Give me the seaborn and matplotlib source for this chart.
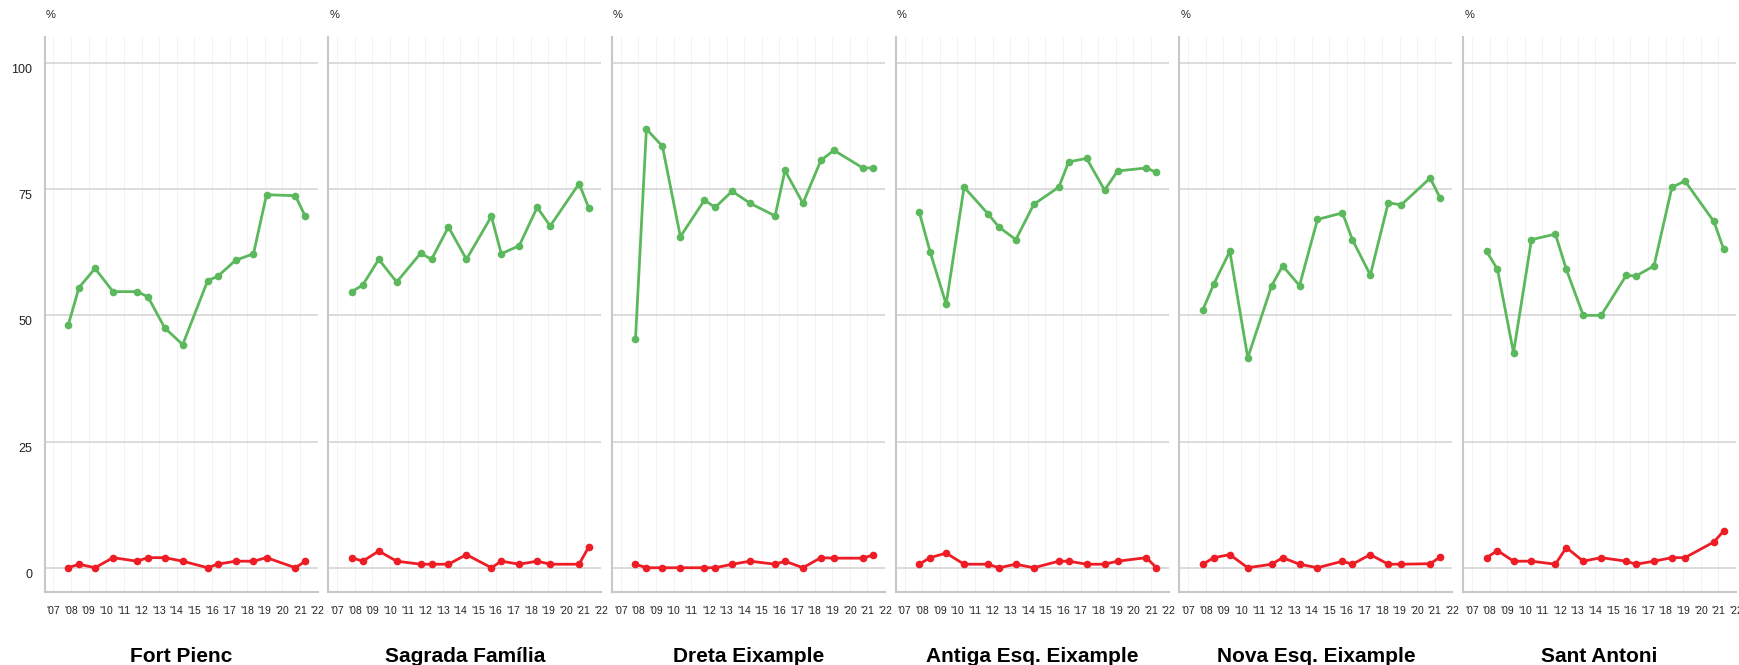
import matplotlib
matplotlib.use("Agg")
import matplotlib.pyplot as plt
import matplotlib.transforms as mtransforms
import numpy as np
import pandas as pd
import seaborn as sns

sns.set_style("white")
plt.rcParams["font.family"] = ["Liberation Sans", "DejaVu Sans"]

# survey dates (fractional years) shared by every district
dates = [2007.83, 2008.45, 2009.36, 2010.38, 2011.74, 2012.36, 2013.32, 2014.34,
         2015.76, 2016.32, 2017.34, 2018.36, 2019.10, 2020.74, 2021.30]

districts = ["Fort Pienc", "Sagrada Família", "Dreta Eixample",
             "Antiga Esq. Eixample", "Nova Esq. Eixample", "Sant Antoni"]

green_vals = {
    "Fort Pienc":           [48.0, 55.5, 59.3, 54.7, 54.7, 53.7, 47.5, 44.2, 56.9, 57.7, 60.9, 62.2, 73.9, 73.7, 69.6],
    "Sagrada Família":      [54.7, 56.0, 61.1, 56.6, 62.3, 61.1, 67.5, 61.1, 69.6, 62.2, 63.8, 71.4, 67.7, 76.1, 71.2],
    "Dreta Eixample":       [45.4, 86.9, 83.5, 65.6, 72.8, 71.4, 74.6, 72.2, 69.7, 78.7, 72.2, 80.7, 82.7, 79.2, 79.2],
    "Antiga Esq. Eixample": [70.5, 62.6, 52.2, 75.4, 70.1, 67.5, 65.0, 72.0, 75.4, 80.4, 81.1, 74.8, 78.6, 79.2, 78.3],
    "Nova Esq. Eixample":   [51.1, 56.2, 62.7, 41.6, 55.9, 59.8, 55.9, 69.0, 70.3, 65.0, 58.0, 72.3, 71.9, 77.2, 73.3],
    "Sant Antoni":          [62.7, 59.1, 42.6, 65.0, 66.1, 59.1, 50.0, 50.0, 57.9, 57.8, 59.8, 75.4, 76.6, 68.6, 63.1],
}

red_vals = {
    "Fort Pienc":           [0.0, 0.7, 0.0, 2.0, 1.3, 2.0, 2.0, 1.3, 0.0, 0.7, 1.3, 1.3, 2.0, 0.0, 1.3],
    "Sagrada Família":      [2.0, 1.3, 3.3, 1.3, 0.7, 0.7, 0.7, 2.6, 0.0, 1.3, 0.7, 1.3, 0.7, 0.7, 4.2],
    "Dreta Eixample":       [0.7, 0.0, 0.0, 0.0, 0.0, 0.0, 0.7, 1.3, 0.7, 1.3, 0.0, 2.0, 1.9, 1.9, 2.5],
    "Antiga Esq. Eixample": [0.7, 2.0, 2.9, 0.7, 0.7, 0.0, 0.7, 0.0, 1.3, 1.3, 0.7, 0.7, 1.3, 2.0, 0.0],
    "Nova Esq. Eixample":   [0.7, 2.0, 2.6, 0.0, 0.7, 2.0, 0.7, 0.0, 1.3, 0.7, 2.6, 0.7, 0.7, 0.8, 2.1],
    "Sant Antoni":          [2.0, 3.4, 1.3, 1.3, 0.7, 4.0, 1.3, 2.0, 1.3, 0.7, 1.3, 2.0, 2.0, 5.1, 7.3],
}

year_ticks = list(range(2007, 2023))
year_labels = ["'%02d" % (y % 100) for y in year_ticks]
y_ticks = [0, 25, 50, 75, 100]

rows = []
for d in districts:
    for x, g, r in zip(dates, green_vals[d], red_vals[d]):
        rows.append((d, x, "green", g))
        rows.append((d, x, "red", r))
df = pd.DataFrame(rows, columns=["district", "date", "series", "value"])

palette = {"green": "#5cb85c", "red": "#ee1c25"}

fig, axes = plt.subplots(1, 6, figsize=(17.39, 6.65), dpi=100, sharey=True)
fig.subplots_adjust(left=0.0257, right=0.9983, bottom=0.1098, top=0.9448, wspace=0.0396)

down = mtransforms.ScaledTranslation(0, -4 / 72, fig.dpi_scale_trans)

for i, (ax, d) in enumerate(zip(axes, districts)):
    sub = df[df["district"] == d]
    for x in year_ticks:
        ax.axvline(x, color="#f3f3f3", lw=0.7, zorder=0)
    for y in y_ticks:
        ax.axhline(y, color="#d9d9d9", lw=1.3, zorder=0)
    sns.lineplot(data=sub, x="date", y="value", hue="series", palette=palette,
                 marker="o", markersize=5.5, markeredgewidth=0, linewidth=2,
                 legend=False, ax=ax, zorder=3)
    ax.set_xlim(2006.5, 2022.0)
    ax.set_ylim(-4.8, 105.2)
    ax.set_xticks(year_ticks)
    ax.set_xticklabels(year_labels, fontsize=7.5, color="#222222")
    ax.set_yticks(y_ticks)
    ax.tick_params(axis="x", length=0, pad=10)
    ax.tick_params(axis="y", length=0, pad=9, labelsize=9, labelcolor="#222222")
    if i > 0:
        ax.tick_params(axis="y", labelleft=False)
    for lab in ax.get_yticklabels():
        lab.set_transform(lab.get_transform() + down)
    ax.set_xlabel("")
    ax.set_ylabel("")
    for s in ["top", "right"]:
        ax.spines[s].set_visible(False)
    for s in ["left", "bottom"]:
        ax.spines[s].set_color("#c8c8c8")
        ax.spines[s].set_linewidth(1.5)
    ax.annotate("%", xy=(0, 1), xycoords="axes fraction", xytext=(4.3, 15.6),
                textcoords="offset points", ha="center", va="center", fontsize=8,
                color="#222222")
    pos = ax.get_position()
    fig.text((pos.x0 + pos.x1) / 2, 0.005, d, ha="center", va="baseline",
             fontsize=15, fontweight="bold", color="black")

fig.savefig("out.png", dpi=100)
